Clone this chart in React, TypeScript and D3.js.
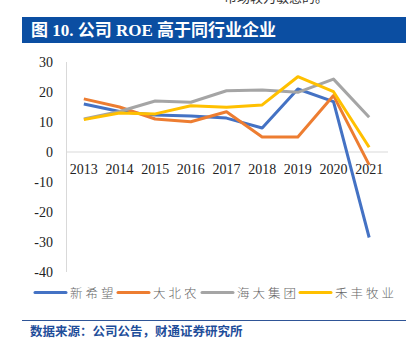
import React from 'react';
import * as d3 from 'd3';

// years on the x axis
const years = ['2013', '2014', '2015', '2016', '2017', '2018', '2019', '2020', '2021'];
// ROE (%)
const xinxiwang = [16, 13.5, 12.3, 12, 11.3, 8, 21, 16.8, -28.5];
const dabeinong = [17.7, 15, 11, 10.1, 13.4, 5, 5, 18.8, -4.3];
const haida = [11, 13.5, 17, 16.6, 20.4, 20.7, 19.9, 24.3, 11.6];
const hefeng = [10.8, 13, 12.7, 15.4, 14.9, 15.7, 25.1, 20.1, 1.6];
const yTicks = [30, 20, 10, 0, -10, -20, -30, -40];

const seriesNames = ['新希望', '大北农', '海大集团', '禾丰牧业'];
const seriesColors = ['#4472C4', '#ED7D31', '#A5A5A5', '#FFC000'];
const seriesData = [xinxiwang, dabeinong, haida, hefeng];

export default function App() {
  const x = d3.scaleBand().domain(years).range([66, 387]);
  const y = d3.scaleLinear().domain([-40, 30]).range([272, 62]);
  const line = d3.line<number>()
    .x((d, i) => (x(years[i]) as number) + x.bandwidth() / 2)
    .y(d => y(d));

  // legend item positions (line start, text start)
  const legendX = [35, 118, 202, 300];

  return (
    <svg width={420} height={350} style={{ position: 'absolute', left: 0, top: 0, background: '#fff' }}>
      {/* clipped text from previous page */}
      <text x={224} y={2} fontSize={13} fill="#333" fontFamily="Noto Sans CJK SC">市场较为敏感的。</text>

      {/* title bar */}
      <rect x={22} y={17} width={384} height={26} fill="#0B4EA2" />
      <text x={31} y={36} fontSize={17} fontWeight="bold" fill="#fff"
        fontFamily="'Liberation Serif', 'Noto Sans CJK SC'">图 10.  公司 ROE 高于同行业企业</text>

      {/* axes */}
      <line x1={66.5} x2={66.5} y1={y(30)} y2={y(-40)} stroke="#d9d9d9" strokeWidth={1} />
      <line x1={66} x2={388} y1={y(0)} y2={y(0)} stroke="#d9d9d9" strokeWidth={1} />
      {yTicks.map(t => (
        <text key={t} x={53} y={y(t) + 5} textAnchor="end" fontSize={14}
          fontFamily="'Liberation Serif'" fill="#222">{t}</text>
      ))}
      {years.map(yr => (
        <text key={yr} x={(x(yr) as number) + x.bandwidth() / 2} y={y(0) + 22} textAnchor="middle"
          fontSize={14} fontFamily="'Liberation Serif'" fill="#222">{yr}</text>
      ))}

      {/* series */}
      {seriesData.map((s, i) => (
        <path key={seriesNames[i]} d={line(s) || ''} fill="none" stroke={seriesColors[i]}
          strokeWidth={3} strokeLinejoin="round" />
      ))}

      {/* legend */}
      {seriesNames.map((n, i) => (
        <g key={n}>
          <line x1={legendX[i]} x2={legendX[i] + 31} y1={292.5} y2={292.5} stroke={seriesColors[i]}
            strokeWidth={3} strokeLinecap="round" />
          <text x={legendX[i] + 35} y={297.5} fontSize={12.5} fill="#666" letterSpacing={3}
            fontFamily="'Noto Sans CJK SC'" fontWeight={300}>{n}</text>
        </g>
      ))}

      {/* source */}
      <line x1={22} x2={406} y1={320.5} y2={320.5} stroke="#2F5597" strokeWidth={1} />
      <text x={30} y={336} fontSize={12.5} fontWeight="bold" fill="#1F4E9A"
        fontFamily="'Noto Sans CJK SC'">数据来源：公司公告，财通证券研究所</text>
    </svg>
  );
}
